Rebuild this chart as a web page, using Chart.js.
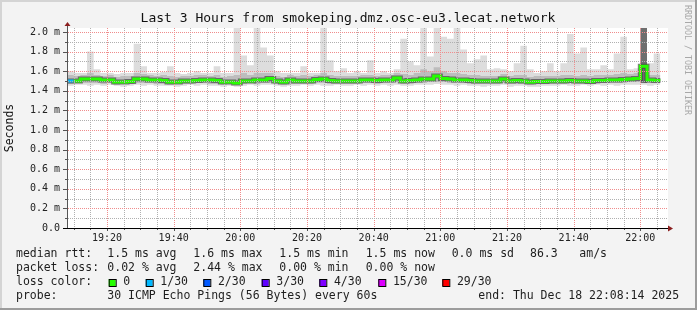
<!DOCTYPE html>
<html>
<head>
<meta charset="utf-8">
<script src="https://cdn.jsdelivr.net/npm/chart.js@4.4.1/dist/chart.umd.min.js"></script>
<style>
  html, body { margin: 0; padding: 0; background: #f3f3f3; overflow: hidden; }
  canvas { display: block; }
</style>
</head>
<body>
<canvas id="smoke" width="697" height="310"></canvas>
<script>
// time axis (2 minute samples from 19:08)
const xLabels = ["19:20", "19:40", "20:00", "20:20", "20:40", "21:00", "21:20", "21:40", "22:00"];
const yLabels = ["0.0", "0.2 m", "0.4 m", "0.6 m", "0.8 m", "1.0 m", "1.2 m", "1.4 m", "1.6 m", "1.8 m", "2.0 m"];
const startTime = "19:08";
const endTime = "22:08";
const stepMinutes = 2;

// rtt in ms
const rttMedian = [1.50, 1.50, 1.52, 1.52, 1.52, 1.51, 1.51, 1.49, 1.49, 1.495,
  1.52, 1.52, 1.51, 1.51, 1.505, 1.49, 1.49, 1.50, 1.50, 1.505,
  1.51, 1.51, 1.505, 1.49, 1.49, 1.48, 1.50, 1.50, 1.51, 1.51,
  1.525, 1.50, 1.49, 1.51, 1.50, 1.50, 1.50, 1.515, 1.52, 1.505,
  1.50, 1.50, 1.50, 1.50, 1.51, 1.51, 1.505, 1.51, 1.51, 1.53,
  1.50, 1.505, 1.51, 1.52, 1.52, 1.55, 1.525, 1.52, 1.51, 1.51,
  1.505, 1.50, 1.50, 1.50, 1.50, 1.52, 1.50, 1.505, 1.50, 1.49,
  1.495, 1.495, 1.50, 1.50, 1.50, 1.505, 1.50, 1.50, 1.495, 1.505,
  1.505, 1.51, 1.51, 1.515, 1.52, 1.525, 1.65, 1.51, 1.505, 1.505];

const rttMax = [1.60, 1.58, 1.58, 1.80, 1.62, 1.58, 1.58, 1.57, 1.58, 1.58,
  1.88, 1.65, 1.58, 1.58, 1.59, 1.65, 1.58, 1.57, 1.58, 1.60,
  1.58, 1.58, 1.65, 1.58, 1.58, 2.04, 1.76, 1.66, 2.04, 1.84,
  1.76, 1.60, 1.58, 1.58, 1.58, 1.65, 1.58, 1.58, 2.04, 1.71,
  1.60, 1.63, 1.58, 1.60, 1.58, 1.71, 1.58, 1.60, 1.58, 1.62,
  1.93, 1.70, 1.66, 2.04, 1.75, 2.04, 1.95, 1.93, 2.04, 1.82,
  1.68, 1.72, 1.76, 1.62, 1.63, 1.62, 1.60, 1.68, 1.86, 1.62,
  1.58, 1.60, 1.68, 1.60, 1.68, 1.98, 1.78, 1.84, 1.62, 1.62,
  1.66, 1.62, 1.78, 1.95, 1.62, 1.63, 2.04, 1.68, 1.78, 1.60];

const rttMin = [1.45, 1.46, 1.46, 1.45, 1.46, 1.45, 1.46, 1.45, 1.44, 1.45,
  1.46, 1.45, 1.46, 1.45, 1.45, 1.45, 1.44, 1.45, 1.46, 1.45,
  1.46, 1.45, 1.45, 1.44, 1.45, 1.44, 1.45, 1.46, 1.45, 1.46,
  1.46, 1.45, 1.44, 1.45, 1.45, 1.46, 1.45, 1.46, 1.45, 1.45,
  1.46, 1.45, 1.45, 1.46, 1.45, 1.46, 1.45, 1.46, 1.45, 1.46,
  1.45, 1.45, 1.46, 1.46, 1.46, 1.47, 1.46, 1.46, 1.45, 1.46,
  1.45, 1.45, 1.44, 1.45, 1.45, 1.46, 1.44, 1.45, 1.45, 1.44,
  1.44, 1.45, 1.45, 1.45, 1.46, 1.45, 1.45, 1.46, 1.45, 1.46,
  1.45, 1.46, 1.45, 1.46, 1.46, 1.46, 1.46, 1.45, 1.46, 1.46];

const smokeHi = [1.56, 1.55, 1.56, 1.58, 1.56, 1.55, 1.56, 1.54, 1.55, 1.55,
  1.58, 1.57, 1.56, 1.55, 1.56, 1.55, 1.54, 1.55, 1.55, 1.56,
  1.56, 1.55, 1.56, 1.54, 1.55, 1.56, 1.58, 1.56, 1.58, 1.58,
  1.58, 1.55, 1.54, 1.56, 1.55, 1.56, 1.55, 1.56, 1.58, 1.56,
  1.55, 1.55, 1.55, 1.55, 1.56, 1.56, 1.55, 1.56, 1.56, 1.58,
  1.57, 1.56, 1.58, 1.62, 1.60, 1.64, 1.60, 1.58, 1.58, 1.57,
  1.56, 1.56, 1.55, 1.55, 1.55, 1.57, 1.55, 1.56, 1.56, 1.54,
  1.55, 1.55, 1.55, 1.55, 1.56, 1.56, 1.55, 1.56, 1.55, 1.56,
  1.56, 1.56, 1.57, 1.58, 1.57, 1.58, 2.04, 1.56, 1.56, 1.56];

const smokeLo = [1.47, 1.48, 1.48, 1.48, 1.48, 1.47, 1.48, 1.46, 1.47, 1.47,
  1.48, 1.48, 1.48, 1.47, 1.47, 1.46, 1.47, 1.47, 1.47, 1.48,
  1.48, 1.47, 1.47, 1.46, 1.47, 1.46, 1.47, 1.48, 1.47, 1.48,
  1.48, 1.47, 1.46, 1.47, 1.47, 1.47, 1.47, 1.48, 1.48, 1.47,
  1.47, 1.47, 1.47, 1.47, 1.48, 1.48, 1.47, 1.48, 1.48, 1.49,
  1.47, 1.47, 1.48, 1.48, 1.49, 1.49, 1.49, 1.48, 1.48, 1.48,
  1.47, 1.47, 1.47, 1.47, 1.47, 1.48, 1.47, 1.47, 1.47, 1.46,
  1.47, 1.47, 1.47, 1.47, 1.47, 1.48, 1.47, 1.47, 1.47, 1.47,
  1.48, 1.48, 1.48, 1.48, 1.49, 1.49, 1.48, 1.48, 1.48, 1.48];

// lost pings out of 30 per sample
const lossPings = [1, 0, 0, 0, 0, 0, 0, 0, 0, 0,
  0, 0, 0, 0, 0, 0, 0, 0, 0, 0,
  0, 0, 0, 0, 0, 0, 0, 0, 0, 0,
  0, 0, 0, 0, 0, 0, 0, 0, 0, 0,
  0, 0, 0, 0, 0, 0, 0, 0, 0, 0,
  0, 0, 0, 0, 0, 0, 0, 0, 0, 0,
  0, 0, 0, 0, 0, 0, 0, 0, 0, 0,
  0, 0, 0, 0, 0, 0, 0, 0, 0, 0,
  0, 0, 0, 0, 0, 0, 0, 0, 0, 0];

const lossSteps = ["0", "1/30", "2/30", "3/30", "4/30", "15/30", "29/30"];
const lossStepColors = ["#26ff00", "#00b8ff", "#0059ff", "#5e00ff", "#7e00ff", "#dd00ff", "#ff0000"];

const titleText = "Last 3 Hours from smokeping.dmz.osc-eu3.lecat.network";
const rttStats = ["1.5 ms avg", "1.6 ms max", "1.5 ms min", "1.5 ms now", "0.0 ms sd", "86.3", "am/s"];
const lossStats = ["0.02 % avg", "2.44 % max", "0.00 % min", "0.00 % now"];
const probeText = "30 ICMP Echo Pings (56 Bytes) every 60s";
const endText = "end: Thu Dec 18 22:08:14 2025";

const toMinute = s => { const p = s.split(":").map(Number); return p[0] * 60 + p[1]; };
const startMinute = toMinute(startTime);
const endMinute = toMinute(endTime);
const sampleMinute = rttMedian.map((_, i) => startMinute + i * stepMinutes);
const pts = arr => arr.map((v, i) => ({ x: sampleMinute[i], y: v }));

function lossColor(n) {
  if (n === 0) return lossStepColors[0];
  if (n === 1) return lossStepColors[1];
  if (n === 2) return lossStepColors[2];
  if (n === 3) return lossStepColors[3];
  if (n < 15) return lossStepColors[4];
  if (n < 29) return lossStepColors[5];
  return lossStepColors[6];
}

const mono = "'DejaVu Sans Mono', monospace";
const clear = "rgba(0,0,0,0)";
const majorGrid = "#f08c8c";
const minorGrid = "#b0b0b0";
const midSmoke = "#bdbdbd";

const isMajorX = v => v % 20 === 0;
const isMajorY = v => Math.round(v * 10) % 2 === 0;

const rrdFrame = {
  id: "rrdFrame",
  beforeDraw(chart) {
    const ctx = chart.ctx;
    const a = chart.chartArea;
    ctx.save();
    ctx.fillStyle = "#f3f3f3";
    ctx.fillRect(0, 0, 697, 310);
    ctx.fillStyle = "#d4d4d4";
    ctx.fillRect(0, 0, 697, 2);
    ctx.fillRect(0, 0, 2, 310);
    ctx.fillStyle = "#9c9c9c";
    ctx.fillRect(0, 308, 697, 2);
    ctx.fillRect(695, 0, 2, 310);
    ctx.fillStyle = "#ffffff";
    ctx.fillRect(a.left, a.top, a.right - a.left + 1, a.bottom - a.top);
    ctx.restore();
  },
  afterDatasetsDraw(chart) {
    // dotted grid on top of the smoke, one pixel dots like rrdtool
    const ctx = chart.ctx;
    const a = chart.chartArea;
    const xs = chart.scales.x;
    const ys = chart.scales.y;
    const top = Math.round(a.top);
    const bottom = Math.round(a.bottom);
    const left = Math.round(a.left);
    const right = Math.round(a.right);
    ctx.save();
    xs.ticks.forEach(t => {
      const px = Math.round(xs.getPixelForValue(t.value));
      ctx.fillStyle = isMajorX(t.value) ? majorGrid : minorGrid;
      for (let y = top; y < bottom; y += 2) ctx.fillRect(px, y, 1, 1);
    });
    ys.ticks.forEach(t => {
      if (t.value <= 0) return;
      const py = Math.round(ys.getPixelForValue(t.value));
      ctx.fillStyle = isMajorY(t.value) ? majorGrid : minorGrid;
      for (let x = left + 1; x <= right; x += 2) ctx.fillRect(x, py, 1, 1);
    });
    // tick marks outside the axes
    ctx.fillStyle = "#555555";
    xs.ticks.forEach(t => {
      const px = Math.round(xs.getPixelForValue(t.value));
      ctx.fillRect(px, bottom, 1, isMajorX(t.value) ? 3 : 2);
    });
    ys.ticks.forEach(t => {
      const py = Math.round(ys.getPixelForValue(t.value));
      const len = isMajorY(t.value) ? 4 : 2;
      ctx.fillRect(left - len, py, len, 1);
    });
    ctx.restore();
  },
  afterDraw(chart) {
    const ctx = chart.ctx;
    const a = chart.chartArea;
    ctx.save();
    // axes
    ctx.fillStyle = "#555555";
    ctx.fillRect(Math.round(a.left), a.top - 3, 1, a.bottom - a.top + 4);
    ctx.fillStyle = "#000000";
    ctx.fillRect(Math.round(a.left) - 4, Math.round(a.bottom), a.right - a.left + 6, 1);
    ctx.fillStyle = "#8b1f1f";
    ctx.beginPath();
    ctx.moveTo(a.left + 0.5, a.top - 6);
    ctx.lineTo(a.left - 2.5, a.top - 2);
    ctx.lineTo(a.left + 3.5, a.top - 2);
    ctx.closePath();
    ctx.fill();
    ctx.beginPath();
    ctx.moveTo(a.right + 6, a.bottom + 0.5);
    ctx.lineTo(a.right + 1, a.bottom - 2.5);
    ctx.lineTo(a.right + 1, a.bottom + 3.5);
    ctx.closePath();
    ctx.fill();

    // title and axis title
    ctx.fillStyle = "#111111";
    ctx.textBaseline = "middle";
    ctx.textAlign = "center";
    ctx.font = "13px " + mono;
    ctx.fillText(titleText, 348, 19);
    ctx.save();
    ctx.translate(10.5, 128);
    ctx.rotate(-Math.PI / 2);
    ctx.font = "11.5px " + mono;
    ctx.fillText("Seconds", 0, 0);
    ctx.restore();
    ctx.save();
    ctx.translate(687.5, 60);
    ctx.rotate(Math.PI / 2);
    ctx.font = "8.3px " + mono;
    ctx.fillStyle = "#a8a8a8";
    ctx.fillText("RRDTOOL / TOBI OETIKER", 0, 0);
    ctx.restore();

    // legend block
    ctx.textAlign = "left";
    ctx.font = "11.5px " + mono;
    ctx.fillStyle = "#1e1e1e";
    const cols = [107.3, 193.3, 279.3, 365.7, 451.7, 530, 579.3];
    ctx.fillText("median rtt:", 16, 254.5);
    rttStats.forEach((s, i) => ctx.fillText(s, cols[i], 254.5));
    ctx.fillText("packet loss:", 16, 268.5);
    lossStats.forEach((s, i) => ctx.fillText(s, cols[i], 268.5));
    ctx.fillText("loss color:", 16, 282.5);
    const boxX = [108.7, 145.7, 203.3, 261.7, 319.3, 378.3, 442.3];
    lossSteps.forEach((s, i) => {
      ctx.fillStyle = lossStepColors[i];
      ctx.fillRect(boxX[i], 279, 7, 7);
      ctx.strokeStyle = "#000000";
      ctx.lineWidth = 1;
      ctx.strokeRect(boxX[i] + 0.5, 279.5, 7, 7);
      ctx.fillStyle = "#1e1e1e";
      ctx.fillText(s, boxX[i] + 14.6, 282.5);
    });
    ctx.fillText("probe:", 16, 296);
    ctx.fillText(probeText, 107.3, 296);
    ctx.fillText(endText, 478.3, 296);
    ctx.restore();
  }
};

const chart = new Chart(document.getElementById("smoke").getContext("2d"), {
  type: "line",
  data: {
    datasets: [
      { label: "min", data: pts(rttMin), borderColor: clear, borderWidth: 1, fill: false, stepped: true, order: 6 },
      { label: "max", data: pts(rttMax), borderColor: clear, borderWidth: 1, fill: "-1", backgroundColor: "#dddddd", stepped: true, order: 6 },
      { label: "lo", data: pts(smokeLo), borderColor: clear, borderWidth: 1, fill: false, stepped: true, order: 5 },
      {
        label: "hi", data: pts(smokeHi), borderColor: clear, borderWidth: 1, fill: "-1", backgroundColor: midSmoke, stepped: true, order: 5,
        // whole burst of slow pings: darker smoke
        segment: { backgroundColor: c => smokeHi[c.p0DataIndex] > 1.9 ? "#6e6e6e" : midSmoke }
      },
      { label: "core", data: pts(rttMedian), borderColor: "rgba(60,60,60,0.65)", borderWidth: 5, fill: false, stepped: true, order: 2 },
      {
        label: "median", data: pts(rttMedian), borderColor: lossStepColors[0], borderWidth: 3, fill: false, stepped: true, order: 1,
        segment: { borderColor: c => lossColor(lossPings[c.p0DataIndex]) }
      }
    ]
  },
  options: {
    responsive: false,
    animation: false,
    events: [],
    layout: { padding: { left: 0, top: 28, right: 30, bottom: 52 } },
    elements: { point: { radius: 0 }, line: { tension: 0, borderCapStyle: "butt" } },
    plugins: { legend: { display: false }, tooltip: { enabled: false }, title: { display: false } },
    scales: {
      x: {
        type: "linear",
        min: startMinute,
        max: endMinute,
        afterFit: s => { s.height = 30; },
        afterBuildTicks: s => {
          const t = [];
          for (let m = Math.ceil(startMinute / 5) * 5; m < endMinute; m += 5) t.push({ value: m });
          s.ticks = t;
        },
        grid: { display: false, drawTicks: false },
        border: { display: false },
        ticks: {
          autoSkip: false,
          maxRotation: 0,
          minRotation: 0,
          padding: 4,
          color: "#222222",
          font: { family: mono, size: 10 },
          callback: v => {
            const l = xLabels.find(s => toMinute(s) === v);
            return l || "";
          }
        }
      },
      y: {
        min: 0,
        max: 2.04,
        afterFit: s => { s.width = 67; },
        grid: { display: false, drawTicks: false },
        border: { display: false },
        ticks: {
          stepSize: 0.1,
          includeBounds: false,
          autoSkip: false,
          padding: 7,
          color: "#222222",
          font: { family: mono, size: 10 },
          callback: v => isMajorY(v) ? yLabels[Math.round(v * 5)] : ""
        }
      }
    }
  },
  plugins: [rrdFrame]
});
</script>
</body>
</html>
